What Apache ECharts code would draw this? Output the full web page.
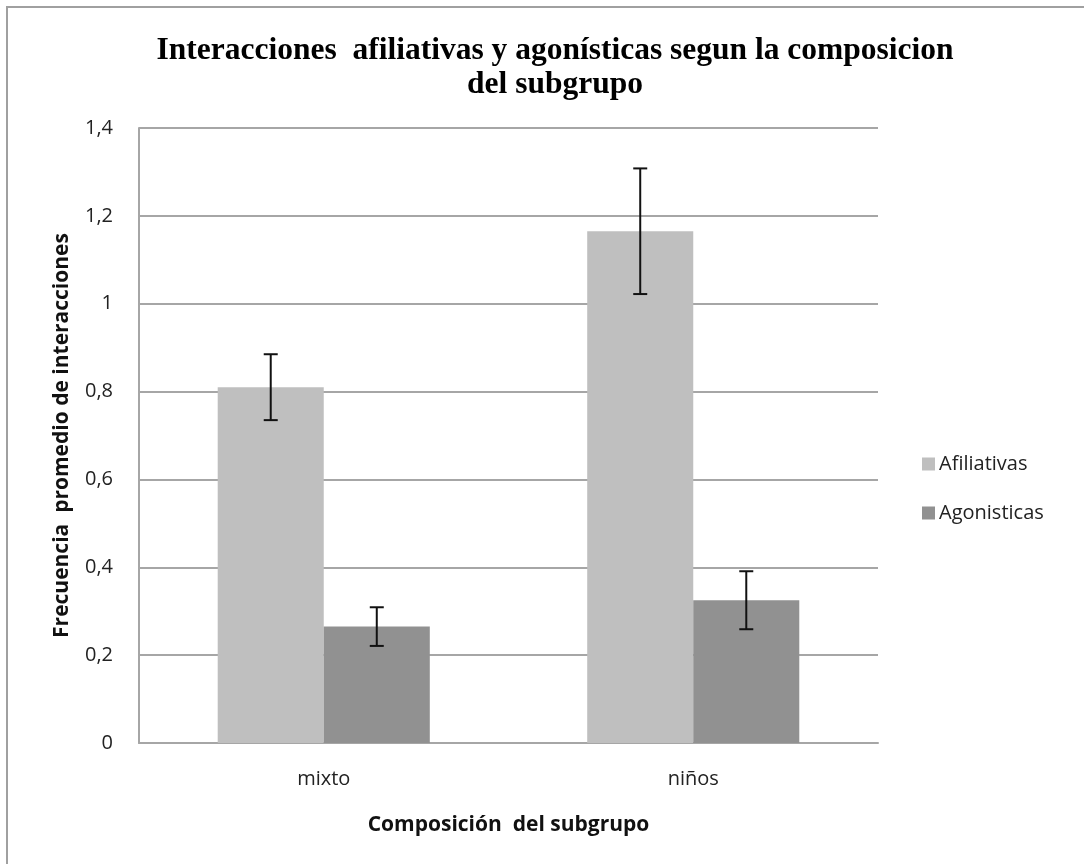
<!DOCTYPE html>
<html>
<head>
<meta charset="utf-8">
<script src="https://cdn.jsdelivr.net/npm/echarts@6/dist/echarts.min.js"></script>
<style>html,body{margin:0;padding:0;background:#fff;}#c{width:1084px;height:864px;}</style>
</head>
<body>
<div id="c"></div>
<script>
const categories = ['mixto', 'niños'];
const seriesNames = ['Afiliativas', 'Agonisticas'];
const afiliativas = [0.81, 1.165];
const agonisticas = [0.265, 0.325];
const afiliativasErr = [0.075, 0.143];
const agonisticasErr = [0.044, 0.066];
const yTicks = ['0', '0,2', '0,4', '0,6', '0,8', '1', '1,2', '1,4'];

const colors = ['#bfbfbf', '#919191'];
const barFrac = 0.287;

function errSeries(values, errs, sign) {
  return {
    type: 'custom',
    z: 10,
    silent: true,
    data: values.map((v, i) => [i, v - errs[i], v + errs[i]]),
    renderItem: function (params, api) {
      const idx = api.value(0);
      const lo = api.coord([idx, api.value(1)]);
      const hi = api.coord([idx, api.value(2)]);
      const band = api.size([1, 0])[0];
      const x = lo[0] + sign * band * barFrac / 2;
      const cap = 7;
      const style = { stroke: '#111', lineWidth: 2 };
      return {
        type: 'group',
        children: [
          { type: 'line', shape: { x1: x, y1: hi[1], x2: x, y2: lo[1] }, style: style },
          { type: 'line', shape: { x1: x - cap, y1: hi[1], x2: x + cap, y2: hi[1] }, style: style },
          { type: 'line', shape: { x1: x - cap, y1: lo[1], x2: x + cap, y2: lo[1] }, style: style }
        ]
      };
    }
  };
}

const chart = echarts.init(document.getElementById('c'));
chart.setOption({
  animation: false,
  backgroundColor: '#fff',
  graphic: [{
    type: 'rect', shape: { x: 7, y: 7, width: 1200, height: 1000 },
    style: { fill: 'none', stroke: '#a0a0a0', lineWidth: 2 }, silent: true
  }],
  title: {
    text: 'Interacciones  afiliativas y agonísticas segun la composicion\ndel subgrupo',
    left: 550, top: 29, textAlign: 'center',
    textStyle: { fontFamily: 'Liberation Serif', fontWeight: 'bold', fontSize: 31.5, color: '#000', lineHeight: 34 }
  },
  legend: {
    orient: 'vertical', left: 917, top: 449, itemGap: 29,
    itemWidth: 13, itemHeight: 13, icon: 'rect',
    data: seriesNames,
    textStyle: { fontFamily: 'Open Sans', fontSize: 20, color: '#222', padding: [0, 0, 0, -1] }
  },
  grid: { left: 139, right: 206, top: 128, bottom: 121 },
  xAxis: {
    type: 'category', data: categories,
    name: 'Composición  del subgrupo', nameLocation: 'middle', nameGap: 72,
    nameTextStyle: { fontFamily: 'Open Sans', fontWeight: 'bold', fontSize: 21, color: '#111' },
    axisLine: { lineStyle: { color: '#a6a6a6', width: 2 } },
    axisTick: { show: false },
    axisLabel: { margin: 26, fontFamily: 'Open Sans', fontSize: 20, color: '#222' }
  },
  yAxis: {
    type: 'value', min: 0, max: 1.4, interval: 0.2,
    name: 'Frecuencia  promedio de interacciones', nameLocation: 'middle', nameGap: 66,
    nameTextStyle: { fontFamily: 'Open Sans', fontWeight: 'bold', fontSize: 21, color: '#111' },
    axisLine: { show: true, lineStyle: { color: '#a6a6a6', width: 2 } },
    axisTick: { show: false },
    splitLine: { lineStyle: { color: '#a6a6a6', width: 2 } },
    axisLabel: {
      margin: 26, fontFamily: 'Open Sans', fontSize: 20, color: '#222',
      formatter: function (v) { return yTicks[Math.round(v / 0.2)]; }
    }
  },
  series: [
    { name: seriesNames[0], type: 'bar', data: afiliativas, barWidth: (barFrac * 100) + '%', barGap: '0%', itemStyle: { color: colors[0] } },
    { name: seriesNames[1], type: 'bar', data: agonisticas, barWidth: (barFrac * 100) + '%', barGap: '0%', itemStyle: { color: colors[1] } },
    errSeries(afiliativas, afiliativasErr, -1),
    errSeries(agonisticas, agonisticasErr, 1)
  ]
});
</script>
</body>
</html>
